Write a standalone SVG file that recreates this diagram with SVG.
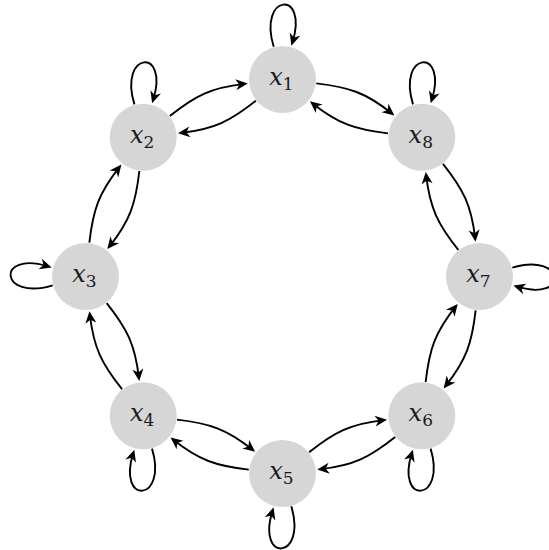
<svg xmlns="http://www.w3.org/2000/svg" xmlns:xlink="http://www.w3.org/1999/xlink" width="549" height="550" viewBox="0 0 549 550">
<style>
.node{fill:#d6d6d6;stroke:none}
.lbl{font-family:'DejaVu Serif',serif;font-size:24px;fill:#1a1a1a}
.v{font-style:italic}
.s{font-size:17px;font-style:normal}
.edge{fill:none;stroke:#000;stroke-width:1.9;marker-end:url(#arr)}
</style>
<defs>
<marker id="arr" markerUnits="userSpaceOnUse" markerWidth="16" markerHeight="12" refX="0" refY="0" orient="auto" overflow="visible">
<path d="M-8.5,-5.5 L3.5,0 L-8.5,5.5 L-5,0 z" fill="#000"/>
</marker>
<path id="eA" d="M169.81,116.03 C195.64,95.49 211.46,87.6 244.25,83.86"/>
<path id="eB" d="M255.89,100.67 C230.06,121.21 214.24,129.1 181.45,132.84"/>
<path id="loop" d="M-8.8,-32.84 C-25,-85.97 26.5,-90.32 9.96,-37.19"/>
</defs>
<g id="nodes">
<g id="x1"><circle class="node" cx="282.5" cy="79.5" r="33.5"/><text class="lbl" x="281.5" y="85" text-anchor="middle"><tspan class="v">x</tspan><tspan class="s" dy="5">1</tspan></text></g>
<g id="x2"><circle class="node" cx="143.2" cy="137.2" r="33.5"/><text class="lbl" x="142.2" y="142.7" text-anchor="middle"><tspan class="v">x</tspan><tspan class="s" dy="5">2</tspan></text></g>
<g id="x3"><circle class="node" cx="85.5" cy="276.5" r="33.5"/><text class="lbl" x="84.5" y="282" text-anchor="middle"><tspan class="v">x</tspan><tspan class="s" dy="5">3</tspan></text></g>
<g id="x4"><circle class="node" cx="143.2" cy="415.8" r="33.5"/><text class="lbl" x="142.2" y="421.3" text-anchor="middle"><tspan class="v">x</tspan><tspan class="s" dy="5">4</tspan></text></g>
<g id="x5"><circle class="node" cx="282.5" cy="473.5" r="33.5"/><text class="lbl" x="281.5" y="479" text-anchor="middle"><tspan class="v">x</tspan><tspan class="s" dy="5">5</tspan></text></g>
<g id="x6"><circle class="node" cx="421.8" cy="415.8" r="33.5"/><text class="lbl" x="420.8" y="421.3" text-anchor="middle"><tspan class="v">x</tspan><tspan class="s" dy="5">6</tspan></text></g>
<g id="x7"><circle class="node" cx="479.5" cy="276.5" r="33.5"/><text class="lbl" x="478.5" y="282" text-anchor="middle"><tspan class="v">x</tspan><tspan class="s" dy="5">7</tspan></text></g>
<g id="x8"><circle class="node" cx="421.8" cy="137.2" r="33.5"/><text class="lbl" x="420.8" y="142.7" text-anchor="middle"><tspan class="v">x</tspan><tspan class="s" dy="5">8</tspan></text></g>
</g>
<g id="connectors">
<use xlink:href="#eA" class="edge"/>
<use xlink:href="#eB" class="edge"/>
<use xlink:href="#eA" class="edge" transform="rotate(45 282.5 276.5)"/>
<use xlink:href="#eB" class="edge" transform="rotate(45 282.5 276.5)"/>
<use xlink:href="#eA" class="edge" transform="rotate(90 282.5 276.5)"/>
<use xlink:href="#eB" class="edge" transform="rotate(90 282.5 276.5)"/>
<use xlink:href="#eA" class="edge" transform="rotate(135 282.5 276.5)"/>
<use xlink:href="#eB" class="edge" transform="rotate(135 282.5 276.5)"/>
<use xlink:href="#eA" class="edge" transform="rotate(180 282.5 276.5)"/>
<use xlink:href="#eB" class="edge" transform="rotate(180 282.5 276.5)"/>
<use xlink:href="#eA" class="edge" transform="rotate(225 282.5 276.5)"/>
<use xlink:href="#eB" class="edge" transform="rotate(225 282.5 276.5)"/>
<use xlink:href="#eA" class="edge" transform="rotate(270 282.5 276.5)"/>
<use xlink:href="#eB" class="edge" transform="rotate(270 282.5 276.5)"/>
<use xlink:href="#eA" class="edge" transform="rotate(315 282.5 276.5)"/>
<use xlink:href="#eB" class="edge" transform="rotate(315 282.5 276.5)"/>
<use xlink:href="#loop" class="edge" transform="translate(282.5 79.5)"/>
<use xlink:href="#loop" class="edge" transform="translate(143.2 137.2)"/>
<use xlink:href="#loop" class="edge" transform="translate(421.8 137.2)"/>
<use xlink:href="#loop" class="edge" transform="translate(85.5 276.5) rotate(-90)"/>
<use xlink:href="#loop" class="edge" transform="translate(479.5 276.5) rotate(90)"/>
<use xlink:href="#loop" class="edge" transform="translate(143.2 415.8) rotate(180)"/>
<use xlink:href="#loop" class="edge" transform="translate(282.5 473.5) rotate(180)"/>
<use xlink:href="#loop" class="edge" transform="translate(421.8 415.8) rotate(180)"/>
</g>
</svg>
